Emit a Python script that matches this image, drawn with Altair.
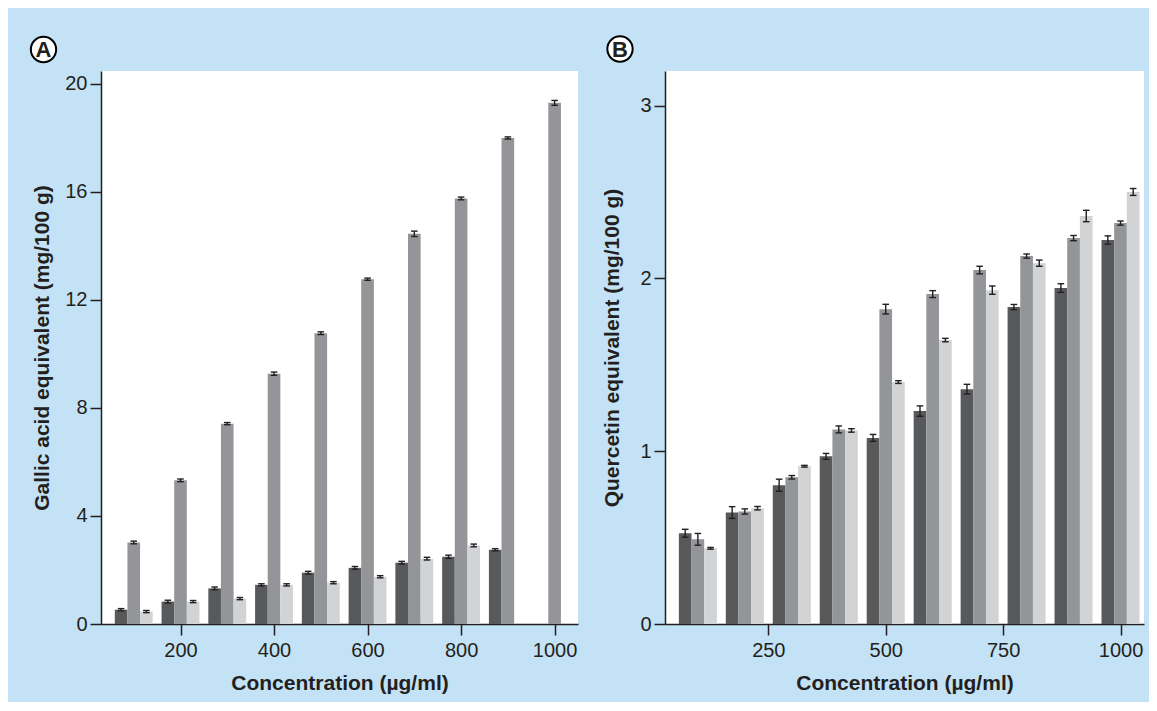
import json
import altair as alt
import pandas as pd

# ---------------- data ----------------
conc = [100, 200, 300, 400, 500, 600, 700, 800, 900, 1000]
series = ["Series 1", "Series 2", "Series 3"]
colors = ["#58595b", "#939598", "#d1d3d4"]

# Panel A: gallic acid equivalent (mg/100 g)
a_s1 = [0.53, 0.83, 1.32, 1.45, 1.90, 2.08, 2.27, 2.49, 2.75, None]
a_s2 = [3.02, 5.32, 7.42, 9.27, 10.77, 12.77, 14.45, 15.76, 18.00, 19.30]
a_s3 = [0.46, 0.83, 0.94, 1.45, 1.53, 1.75, 2.42, 2.91, None, None]
a_e1 = [0.04, 0.05, 0.05, 0.04, 0.05, 0.05, 0.05, 0.06, 0.04, None]
a_e2 = [0.05, 0.05, 0.04, 0.06, 0.05, 0.04, 0.10, 0.05, 0.04, 0.09]
a_e3 = [0.04, 0.04, 0.04, 0.04, 0.04, 0.04, 0.05, 0.05, None, None]

# Panel B: quercetin equivalent (mg/100 g)
b_s1 = [0.525, 0.645, 0.803, 0.970, 1.077, 1.232, 1.359, 1.834, 1.944, 2.222]
b_s2 = [0.490, 0.651, 0.849, 1.126, 1.822, 1.909, 2.048, 2.129, 2.233, 2.320]
b_s3 = [0.438, 0.670, 0.913, 1.120, 1.400, 1.643, 1.932, 2.088, 2.361, 2.500]
b_e1 = [0.023, 0.034, 0.035, 0.017, 0.020, 0.030, 0.028, 0.015, 0.025, 0.024]
b_e2 = [0.034, 0.015, 0.010, 0.020, 0.028, 0.020, 0.022, 0.012, 0.015, 0.012]
b_e3 = [0.005, 0.010, 0.005, 0.010, 0.008, 0.010, 0.024, 0.018, 0.033, 0.020]

a_xticks = [200, 400, 600, 800, 1000]
b_xticks = [250, 500, 750, 1000]
a_yticks = [0, 4, 8, 12, 16, 20]
b_yticks = [0, 1, 2, 3]
panel_labels = ["A", "B"]

x_title = "Concentration (µg/ml)"
a_ytitle = "Gallic acid equivalent (mg/100 g)"
b_ytitle = "Quercetin equivalent (mg/100 g)"

BLUE = "#c4e2f5"
INK = "#231f20"
FONT = "Liberation Sans"


def long_table(vals_list, errs_list):
    rows = []
    for si, (vals, errs) in enumerate(zip(vals_list, errs_list)):
        for c, v, e in zip(conc, vals, errs):
            if v is None:
                continue
            rows.append({"conc": c, "series": series[si], "value": v, "err": e})
    return pd.DataFrame(rows)


def panel(df, ydom, yticks, xticks, ytitle, label, width, height,
          ytitle_pad, lab_x, circ_y, text_y):
    base = alt.Chart(df).transform_calculate(
        k="indexof(%s, datum.series) - 1" % json.dumps(series),
        xc="datum.conc + datum.k * 27",
        x0="datum.xc - 13.5",
        x1="datum.xc + 13.5",
        lo="datum.value - datum.err",
        hi="datum.value + datum.err",
        cl="datum.xc - 7",
        cr="datum.xc + 7",
    )
    xscale = alt.Scale(domain=[30, 1050], nice=False, zero=False)
    yscale = alt.Scale(domain=ydom, nice=False)
    xaxis = alt.Axis(values=xticks, title=x_title, format="d")
    yaxis = alt.Axis(values=yticks, title=ytitle, format="d",
                     titlePadding=ytitle_pad)

    bars = base.mark_bar().encode(
        x=alt.X("x0:Q", scale=xscale, axis=xaxis),
        x2="x1:Q",
        y=alt.Y("value:Q", scale=yscale, axis=yaxis),
        y2=alt.datum(0),
        color=alt.Color("series:N", scale=alt.Scale(domain=series, range=colors),
                        legend=None),
    )
    stem = base.mark_rule(color=INK, strokeWidth=1.4).encode(
        x="xc:Q", y="lo:Q", y2="hi:Q")
    cap_hi = base.mark_rule(color=INK, strokeWidth=1.4).encode(
        x="cl:Q", x2="cr:Q", y="hi:Q")
    cap_lo = base.mark_rule(color=INK, strokeWidth=1.4).encode(
        x="cl:Q", x2="cr:Q", y="lo:Q")

    lab_df = pd.DataFrame({"label": [label]})
    circ = alt.Chart(lab_df).mark_circle(
        size=640, color="white", stroke="black", strokeWidth=2, opacity=1
    ).encode(x=alt.value(lab_x), y=alt.value(circ_y))
    txt = alt.Chart(lab_df).mark_text(
        font=FONT, fontSize=22, fontWeight="bold", color=INK,
        align="center", baseline="alphabetic"
    ).encode(x=alt.value(lab_x), y=alt.value(text_y), text="label:N")

    return alt.layer(bars, stem, cap_hi, cap_lo, circ, txt).properties(
        width=width, height=height)


dfa = long_table([a_s1, a_s2, a_s3], [a_e1, a_e2, a_e3])
dfb = long_table([b_s1, b_s2, b_s3], [b_e1, b_e2, b_e3])

pa = panel(dfa, [0, 20.48], a_yticks, a_xticks, a_ytitle, panel_labels[0],
           477, 553, 12, -57.5, -21.5, -13.8)
pb = panel(dfb, [0, 3.2], b_yticks, b_xticks, b_ytitle, panel_labels[1],
           479, 553, 17, -45, -22, -14.3)

chart = alt.hconcat(pa, pb, spacing=23).properties(
    background=BLUE,
    padding={"left": 18, "top": 24, "right": 5, "bottom": 9},
).configure_view(
    fill="white", strokeWidth=0
).configure_axis(
    domainColor=INK, domainWidth=1.5, tickColor=INK, tickWidth=1.5,
    tickSize=11, labelFont=FONT, labelFontSize=20, labelColor=INK,
    titleFont=FONT, titleFontSize=21, titleFontWeight="bold",
    titleColor=INK, grid=False,
).configure_axisX(
    labelPadding=5, titlePadding=12
).configure_axisY(
    labelPadding=3
)

chart.save("out.html", embed_options={"renderer": "svg", "actions": False})
